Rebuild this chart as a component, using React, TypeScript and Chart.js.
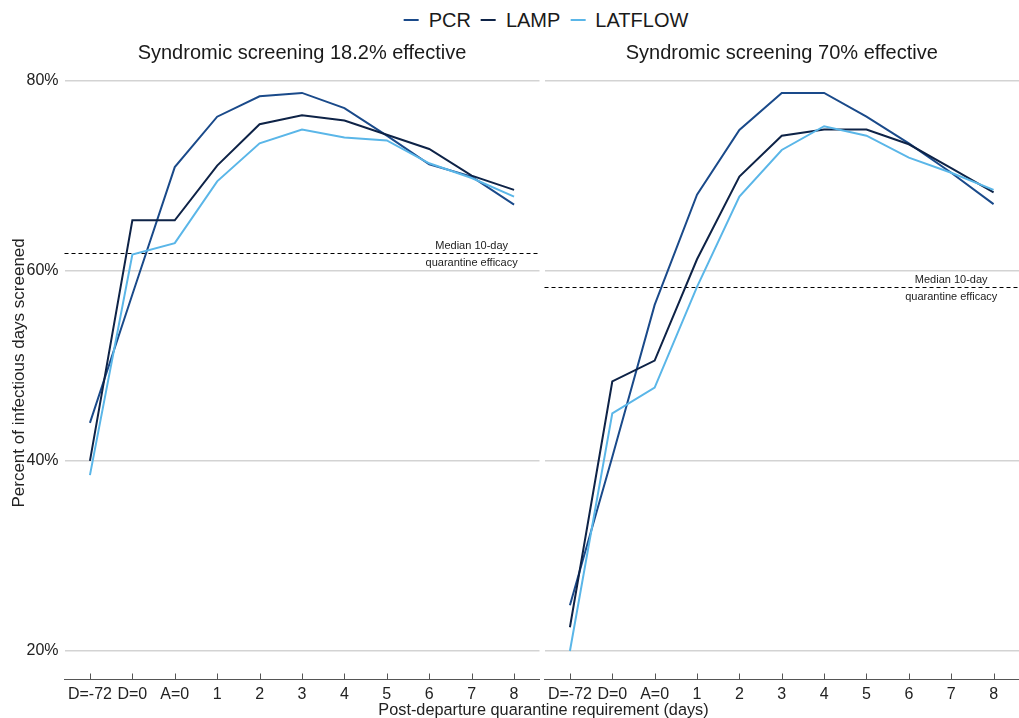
import React, { useEffect, useRef } from "react";
import { Chart, registerables } from "chart.js";

Chart.register(...registerables);

const FONT = "'Liberation Sans', Arial, Helvetica, sans-serif";

const categories = ["D=-72", "D=0", "A=0", "1", "2", "3", "4", "5", "6", "7", "8"];
const seriesNames = ["PCR", "LAMP", "LATFLOW"];
const seriesColors = ["#1a4a8a", "#0e2347", "#5ab6e8"];
const panelTitles = ["Syndromic screening 18.2% effective", "Syndromic screening 70% effective"];

const pcr18 = [44.0, 57.5, 70.9, 76.2, 78.35, 78.7, 77.1, 74.2, 71.2, 69.9, 66.95];
const lamp18 = [40.0, 65.3, 65.3, 71.05, 75.4, 76.35, 75.8, 74.3, 72.8, 70.0, 68.5];
const latflow18 = [38.5, 61.7, 62.9, 69.4, 73.4, 74.85, 74.0, 73.7, 71.3, 69.75, 67.8];

const pcr70 = [24.8, 40.4, 56.4, 68.0, 74.8, 78.7, 78.7, 76.2, 73.4, 70.3, 67.0];
const lamp70 = [22.5, 48.35, 50.55, 61.2, 69.9, 74.2, 74.85, 74.85, 73.3, 70.8, 68.25];
const latflow70 = [20.0, 45.0, 47.7, 58.3, 67.8, 72.7, 75.2, 74.2, 71.9, 70.3, 68.5];

const medianEfficacy = [61.9, 58.3];
const annotationLines = ["Median 10-day", "quarantine efficacy"];
const annotationCategory = 9;
const yTickValues = [20, 40, 60, 80];
const yAxisTitle = "Percent of infectious days screened";
const xAxisTitle = "Post-departure quarantine requirement (days)";

const panelSeries = [
  [pcr18, lamp18, latflow18],
  [pcr70, lamp70, latflow70],
];

function Panel({ index, left, width }: { index: number; left: number; width: number }) {
  const ref = useRef<HTMLCanvasElement | null>(null);

  useEffect(() => {
    if (!ref.current) return;
    const series = panelSeries[index];
    const overlay = {
      id: "overlay" + index,
      beforeDatasetsDraw(chart: any) {
        const { ctx, chartArea, scales } = chart;
        const y = Math.round(scales.y.getPixelForValue(medianEfficacy[index])) + 0.5;
        ctx.save();
        ctx.strokeStyle = "#000";
        ctx.lineWidth = 1;
        ctx.setLineDash([4, 3]);
        ctx.beginPath();
        ctx.moveTo(chartArea.left, y);
        ctx.lineTo(chartArea.right, y);
        ctx.stroke();
        ctx.setLineDash([]);
        const x = scales.x.getPixelForValue(annotationCategory);
        ctx.fillStyle = "#222";
        ctx.font = `11px ${FONT}`;
        ctx.textAlign = "center";
        ctx.textBaseline = "middle";
        ctx.fillText(annotationLines[0], x, y - 7.5);
        ctx.fillText(annotationLines[1], x, y + 9);
        ctx.restore();
      },
      afterDraw(chart: any) {
        const { ctx, chartArea, scales } = chart;
        ctx.save();
        ctx.strokeStyle = "#555";
        ctx.lineWidth = 1;
        scales.x.ticks.forEach((t: any) => {
          const x = Math.round(scales.x.getPixelForValue(t.value)) + 0.5;
          ctx.beginPath();
          ctx.moveTo(x, chartArea.bottom - 6);
          ctx.lineTo(x, chartArea.bottom);
          ctx.stroke();
        });
        ctx.restore();
      },
    };

    const chart = new Chart(ref.current, {
      type: "line",
      data: {
        datasets: seriesNames.map((name, s) => ({
          label: name,
          data: series[s].map((v, i) => ({ x: i, y: v })),
          borderColor: seriesColors[s],
          backgroundColor: seriesColors[s],
          borderWidth: 2,
          pointRadius: 0,
          tension: 0,
          order: 2 - s,
        })),
      },
      options: {
        animation: false,
        responsive: false,
        layout: { padding: { top: 41.5, right: index === 0 ? 2.5 : 0, left: 0, bottom: 0 } },
        plugins: {
          legend: { display: false },
          tooltip: { enabled: false },
          title: {
            display: true,
            text: panelTitles[index],
            fullSize: false,
            font: { size: 20, family: FONT, weight: "normal", lineHeight: 1.2 },
            color: "#1a1a1a",
            padding: { top: 0, bottom: 0.8 },
          },
        },
        scales: {
          x: {
            type: "linear",
            min: -0.6,
            max: 10.6,
            afterBuildTicks: (s: any) => {
              s.ticks = categories.map((_, i) => ({ value: i }));
            },
            afterFit: (s: any) => {
              s.height = 38.5;
            },
            ticks: {
              callback: (v: any) => categories[v],
              autoSkip: false,
              maxRotation: 0,
              font: { size: 16, family: FONT },
              color: "#222",
              padding: 5,
            },
            grid: { display: true, drawOnChartArea: false, drawTicks: false },
            border: { display: true, color: "#555", width: 1 },
          },
          y: {
            type: "linear",
            min: 17,
            max: 81.5,
            afterBuildTicks: (s: any) => {
              s.ticks = yTickValues.map((v) => ({ value: v }));
            },
            afterFit: (s: any) => {
              s.width = index === 0 ? 64.5 : 2.5;
            },
            ticks: {
              display: index === 0,
              callback: (v: any) => v + "%",
              font: { size: 16, family: FONT },
              color: "#222",
              padding: 6,
            },
            grid: { color: "#d3d3d3", lineWidth: 1.6, drawTicks: false },
            border: { display: false },
            title: {
              display: index === 0,
              text: yAxisTitle,
              font: { size: 17, family: FONT },
              color: "#222",
              padding: { top: 8.8, bottom: 0 },
            },
          },
        },
      },
      plugins: [overlay],
    } as any);
    return () => chart.destroy();
  }, [index]);

  return (
    <canvas
      ref={ref}
      width={width}
      height={718}
      style={{ position: "absolute", left, top: 0, width, height: 718 }}
    />
  );
}

export default function App() {
  return (
    <div
      style={{
        position: "fixed",
        left: 0,
        top: 0,
        width: 1019,
        height: 718,
        background: "#fff",
        fontFamily: FONT,
        overflow: "hidden",
      }}
    >
      <div
        style={{
          position: "absolute",
          top: 8,
          left: 546,
          transform: "translateX(-50%)",
          display: "flex",
          alignItems: "center",
          whiteSpace: "nowrap",
          fontSize: 20,
          lineHeight: "24px",
          color: "#1a1a1a",
        }}
      >
        {seriesNames.map((name, s) => (
          <span key={name} style={{ display: "flex", alignItems: "center", marginRight: s < seriesNames.length - 1 ? 10 : 0 }}>
            <span
              style={{
                display: "inline-block",
                width: 15,
                height: 2.5,
                background: seriesColors[s],
                marginRight: 10,
              }}
            />
            <span>{name}</span>
          </span>
        ))}
      </div>
      <Panel index={0} left={0} width={542} />
      <Panel index={1} left={542} width={477} />
      <div
        style={{
          position: "absolute",
          top: 699.5,
          left: 543.5,
          transform: "translateX(-50%)",
          fontSize: 16.3,
          lineHeight: "19px",
          whiteSpace: "nowrap",
          color: "#222",
        }}
      >
        {xAxisTitle}
      </div>
    </div>
  );
}
